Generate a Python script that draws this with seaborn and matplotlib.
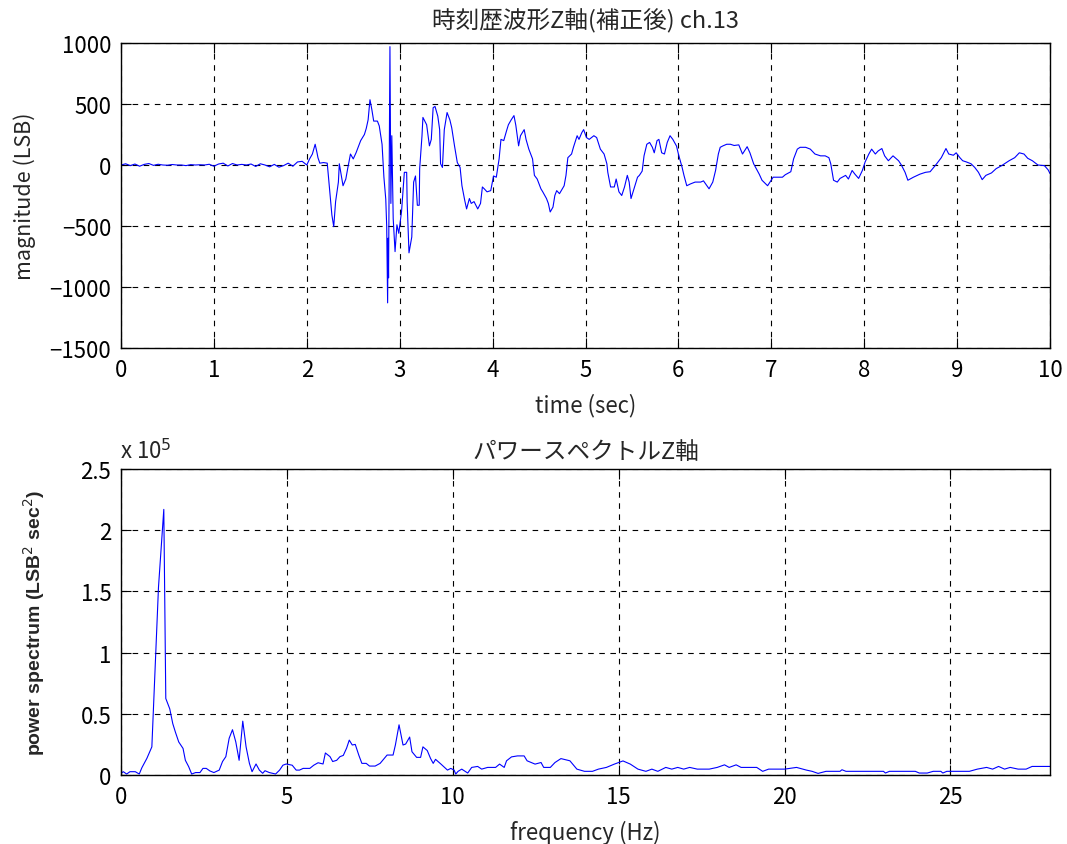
import numpy as np
import pandas as pd
import matplotlib
matplotlib.use("Agg")
import matplotlib.pyplot as plt
import seaborn as sns
from matplotlib.ticker import FuncFormatter

sns.set_theme(style="white")
plt.rcParams['font.family'] = ['Noto Sans CJK JP', 'DejaVu Sans']
plt.rcParams['axes.unicode_minus'] = True

# ---------------- data: time waveform ----------------
time_sec = [0.00, 0.05, 0.10, 0.15, 0.20, 0.25, 0.30, 0.35, 0.40, 0.45, 0.50, 0.55, 0.60, 0.65, 0.70,
            0.75, 0.80, 0.85, 0.90, 0.95, 1.00, 1.05, 1.10, 1.15, 1.20, 1.25, 1.30, 1.35, 1.40, 1.45,
            1.50, 1.55, 1.60, 1.65, 1.70, 1.75, 1.80, 1.85, 1.90, 1.95, 2.00,
            2.03, 2.06, 2.09, 2.11, 2.12, 2.14, 2.18, 2.22, 2.24, 2.27, 2.29, 2.31, 2.34, 2.35, 2.39,
            2.42, 2.44, 2.47, 2.50, 2.53, 2.58, 2.62, 2.64, 2.66, 2.68, 2.70, 2.72, 2.76, 2.78, 2.81,
            2.83, 2.85, 2.86, 2.87, 2.875, 2.88, 2.895, 2.905, 2.915, 2.93, 2.95, 2.97, 2.99, 3.02,
            3.05, 3.075, 3.08, 3.10, 3.13, 3.15, 3.17, 3.19, 3.21, 3.215, 3.24, 3.25, 3.29, 3.32, 3.34,
            3.36, 3.38, 3.41, 3.43, 3.44, 3.46, 3.48, 3.51, 3.54, 3.56, 3.59, 3.62, 3.65, 3.67, 3.70,
            3.72, 3.75, 3.77, 3.80, 3.84, 3.87, 3.89, 3.91, 3.94, 3.98, 4.01, 4.04, 4.07, 4.09, 4.12,
            4.15, 4.17, 4.20, 4.23, 4.25, 4.28, 4.30, 4.34, 4.36, 4.39, 4.43, 4.45, 4.48, 4.52, 4.54,
            4.58, 4.60, 4.62, 4.65, 4.67, 4.69, 4.72, 4.75, 4.77, 4.79, 4.81, 4.85, 4.87, 4.91, 4.93,
            4.96, 4.98, 5.01, 5.04, 5.09, 5.12, 5.16, 5.20, 5.23, 5.24, 5.27, 5.31, 5.33, 5.36, 5.39,
            5.42, 5.45, 5.47, 5.49, 5.52, 5.56, 5.58, 5.61, 5.63, 5.66, 5.69, 5.72, 5.74, 5.77, 5.79,
            5.82, 5.85, 5.88, 5.91, 5.94, 5.98, 6.00, 6.04, 6.06, 6.09, 6.13, 6.18, 6.24, 6.27, 6.33,
            6.37, 6.40, 6.43, 6.45, 6.48, 6.52, 6.56, 6.60, 6.65, 6.69, 6.74, 6.77, 6.81, 6.87, 6.90,
            6.96, 7.02, 7.12, 7.15, 7.21, 7.24, 7.28, 7.31, 7.37, 7.42, 7.47, 7.53, 7.58, 7.62, 7.64,
            7.67, 7.71, 7.74, 7.80, 7.83, 7.87, 7.90, 7.94, 7.98, 8.01, 8.05, 8.08, 8.12, 8.15, 8.19,
            8.22, 8.26, 8.31, 8.37, 8.40, 8.44, 8.47, 8.53, 8.60, 8.66, 8.71, 8.78, 8.83, 8.88, 8.91,
            8.96, 8.99, 9.03, 9.06, 9.10, 9.15, 9.19, 9.23, 9.27, 9.31, 9.37, 9.42, 9.48, 9.53, 9.56,
            9.62, 9.67, 9.72, 9.76, 9.81, 9.87, 9.94, 9.98, 10.0]
magnitude_lsb = [0, 10, -5, 8, -10, 5, 12, -3, 6, 0, -2, 4, 0, 0, -5,
                 3, 0, 2, 0, 6, -10, 8, 15, -8, 12, 0, 5, 0, 8, -12,
                 10, 0, -15, 5, -18, -5, 15, -10, 25, 30, 0,
                 50, 90, 170, 100, 60, 15, 20, 15, -155, -410, -505, -300, -140, 10, -170,
                 -115, -30, 90, 50, 100, 200, 250, 300, 370, 535, 455, 360, 360, 320, 170,
                 -100, -280, -500, -1130, -600, -925, 970, -315, 240, -440, -710, -490, -560, -380,
                 -60, -60, -300, -720, -590, -140, -90, -330, -330, -30, 240, 390, 330, 157, 210,
                 470, 480, 400, 290, 10, -20, 290, 430, 370, 305, 157, 20, -20, -170, -290,
                 -360, -275, -315, -300, -360, -315, -180, -195, -220, -210, -90, -100, 50, 210, 200,
                 280, 330, 370, 405, 325, 157, 240, 290, 210, 130, 50, -85, -115, -195, -220,
                 -275, -315, -385, -345, -250, -210, -235, -195, -170, -85, 60, 90, 145, 240, 210,
                 265, 290, 225, 210, 240, 225, 130, 90, 10, -60, -180, -180, -115, -220, -250,
                 -180, -85, -140, -275, -200, -100, -85, -50, 75, 170, 185, 145, 100, 200, 210,
                 100, 90, 185, 240, 210, 155, 90, -20, -85, -170, -155, -140, -140, -130, -195,
                 -140, -45, 90, 145, 157, 170, 170, 160, 165, 90, 150, 100, 10, -75, -125,
                 -170, -100, -100, -80, -55, 50, 130, 145, 145, 130, 90, 75, 75, 60, 10,
                 -125, -140, -110, -85, -115, -45, -75, -110, -45, 25, 90, 130, 90, 115, 135,
                 75, 35, 75, 35, 0, -60, -125, -100, -75, -60, -55, 10, 60, 135, 90,
                 80, 100, 60, 35, 25, 10, -20, -60, -120, -85, -65, -30, -5, 20, 35,
                 60, 100, 90, 55, 35, 0, -5, -40, -70]

# ---------------- data: power spectrum (in units of 1e5) ----------------
freq_hz = [0.00, 0.07, 0.17, 0.27, 0.43, 0.55, 0.63, 0.78, 0.93, 1.13, 1.29, 1.35, 1.47, 1.56, 1.64,
           1.74, 1.87, 1.94, 2.04, 2.13, 2.25, 2.38, 2.47, 2.57, 2.68, 2.80, 2.96, 3.06, 3.16, 3.26,
           3.36, 3.46, 3.56, 3.67, 3.77, 3.87, 3.95, 4.07, 4.17, 4.27, 4.34, 4.47, 4.66, 4.78, 4.88,
           4.98, 5.16, 5.28, 5.38, 5.49, 5.69, 5.81, 5.94, 6.09, 6.16, 6.30, 6.38, 6.50, 6.60, 6.70,
           6.80, 6.88, 6.97, 7.06, 7.17, 7.26, 7.39, 7.49, 7.66, 7.81, 7.91, 8.02, 8.20, 8.27, 8.38,
           8.50, 8.58, 8.70, 8.77, 8.91, 9.03, 9.10, 9.23, 9.33, 9.41, 9.48, 9.64, 9.84, 9.94, 10.04,
           10.09, 10.16, 10.27, 10.45, 10.57, 10.75, 10.87, 11.05, 11.29, 11.41, 11.55, 11.62, 11.77,
           11.95, 12.15, 12.24, 12.48, 12.66, 12.74, 12.94, 13.08, 13.26, 13.53, 13.74, 13.97, 14.21,
           14.39, 14.63, 14.87, 15.13, 15.35, 15.58, 15.82, 16.00, 16.18, 16.42, 16.60, 16.78, 16.96,
           17.14, 17.37, 17.73, 17.97, 18.19, 18.33, 18.54, 18.69, 19.16, 19.34, 19.52, 20.00, 20.36,
           20.66, 20.83, 21.01, 21.25, 21.67, 21.73, 21.85, 22.50, 22.98, 23.04, 23.16, 23.94, 24.06,
           24.30, 24.48, 24.71, 24.77, 24.89, 25.57, 25.81, 26.09, 26.27, 26.45, 26.63, 26.80, 27.04,
           27.28, 27.46, 28.00]
power_e5 = [0.014, 0.027, 0.008, 0.027, 0.027, 0.008, 0.060, 0.136, 0.230, 1.535, 2.170, 0.625, 0.540,
            0.420, 0.350, 0.270, 0.217, 0.120, 0.068, 0.008, 0.020, 0.020, 0.054, 0.054, 0.033, 0.020,
            0.040, 0.110, 0.150, 0.300, 0.370, 0.270, 0.120, 0.440, 0.230, 0.095, 0.027, 0.090, 0.040,
            0.014, 0.035, 0.020, 0.008, 0.040, 0.080, 0.090, 0.080, 0.040, 0.040, 0.054, 0.054, 0.080,
            0.100, 0.090, 0.180, 0.150, 0.110, 0.120, 0.150, 0.160, 0.220, 0.285, 0.245, 0.250, 0.160,
            0.095, 0.095, 0.073, 0.073, 0.095, 0.128, 0.163, 0.163, 0.245, 0.410, 0.245, 0.253, 0.310,
            0.190, 0.144, 0.144, 0.230, 0.200, 0.135, 0.095, 0.128, 0.090, 0.040, 0.054, 0.040, 0.008,
            0.030, 0.048, 0.016, 0.062, 0.070, 0.048, 0.062, 0.062, 0.089, 0.062, 0.116, 0.148, 0.156,
            0.156, 0.116, 0.089, 0.102, 0.062, 0.062, 0.102, 0.134, 0.116, 0.048, 0.030, 0.030, 0.048,
            0.062, 0.089, 0.115, 0.089, 0.048, 0.030, 0.048, 0.030, 0.062, 0.048, 0.062, 0.048, 0.062,
            0.048, 0.048, 0.062, 0.083, 0.062, 0.083, 0.062, 0.062, 0.030, 0.048, 0.048, 0.062, 0.040,
            0.030, 0.013, 0.030, 0.030, 0.043, 0.030, 0.030, 0.030, 0.016, 0.030, 0.030, 0.016, 0.016,
            0.030, 0.030, 0.016, 0.030, 0.030, 0.048, 0.062, 0.048, 0.070, 0.048, 0.062, 0.048, 0.048,
            0.070, 0.070]

df_t = pd.DataFrame({"t": time_sec, "v": magnitude_lsb})
df_f = pd.DataFrame({"f": freq_hz, "p": np.array(power_e5) * 1e5})

W, H = 1067, 845
fig = plt.figure(figsize=(W / 100, H / 100), dpi=100)
ax1 = fig.add_axes([121 / W, 1 - 349 / H, 929 / W, 305 / H])
ax2 = fig.add_axes([121 / W, 1 - 776 / H, 929 / W, 306 / H])

blue = "#0000FF"
sns.lineplot(data=df_t, x="t", y="v", ax=ax1, color=blue, linewidth=0.8,
             estimator=None, sort=False)
sns.lineplot(data=df_f, x="f", y="p", ax=ax2, color=blue, linewidth=0.8,
             estimator=None, sort=False)

tick_fs = 16
for ax in (ax1, ax2):
    ax.set_facecolor("white")
    for sp in ax.spines.values():
        sp.set_visible(True)
        sp.set_color("black")
        sp.set_linewidth(1.0)
    ax.grid(True, color="black", linestyle=(0, (5, 5)), linewidth=0.8)
    ax.tick_params(direction="in", length=7, width=0.8, colors="black",
                   labelsize=tick_fs, top=True, right=True, bottom=True, left=True, pad=7)

ax1.set_xlim(0, 10)
ax1.set_ylim(-1500, 1000)
ax1.set_xticks(range(0, 11))
ax1.set_yticks([-1500, -1000, -500, 0, 500, 1000])
ax1.yaxis.set_major_formatter(FuncFormatter(lambda v, p: f"{int(v)}".replace("-", "\u2212")))
ax1.set_title("時刻歴波形Z軸(補正後) ch.13", fontsize=17, pad=11)
ax1.set_xlabel("time (sec)", fontsize=16, labelpad=9)
ax1.set_ylabel("magnitude (LSB)", fontsize=15.5, labelpad=10)

ax2.set_xlim(0, 28)
ax2.set_ylim(0, 2.5e5)
ax2.set_xticks([0, 5, 10, 15, 20, 25])
ax2.set_yticks([0, 0.5e5, 1e5, 1.5e5, 2e5, 2.5e5])
ax2.yaxis.set_major_formatter(FuncFormatter(lambda v, p: f"{v / 1e5:g}"))
ax2.set_title("パワースペクトルZ軸", fontsize=17, pad=8)
ax2.set_xlabel("frequency (Hz)", fontsize=16, labelpad=9)
ax2.set_ylabel("power spectrum (LSB$^2$ sec$^2$)", fontsize=14, fontweight="bold",
               family=["Liberation Sans", "DejaVu Sans"], labelpad=24)
fig.text(120 / W, 1 - 452 / H, "x 10$^5$", fontsize=16, ha="left", va="center")

fig.savefig("out.png", dpi=100, facecolor="white")
